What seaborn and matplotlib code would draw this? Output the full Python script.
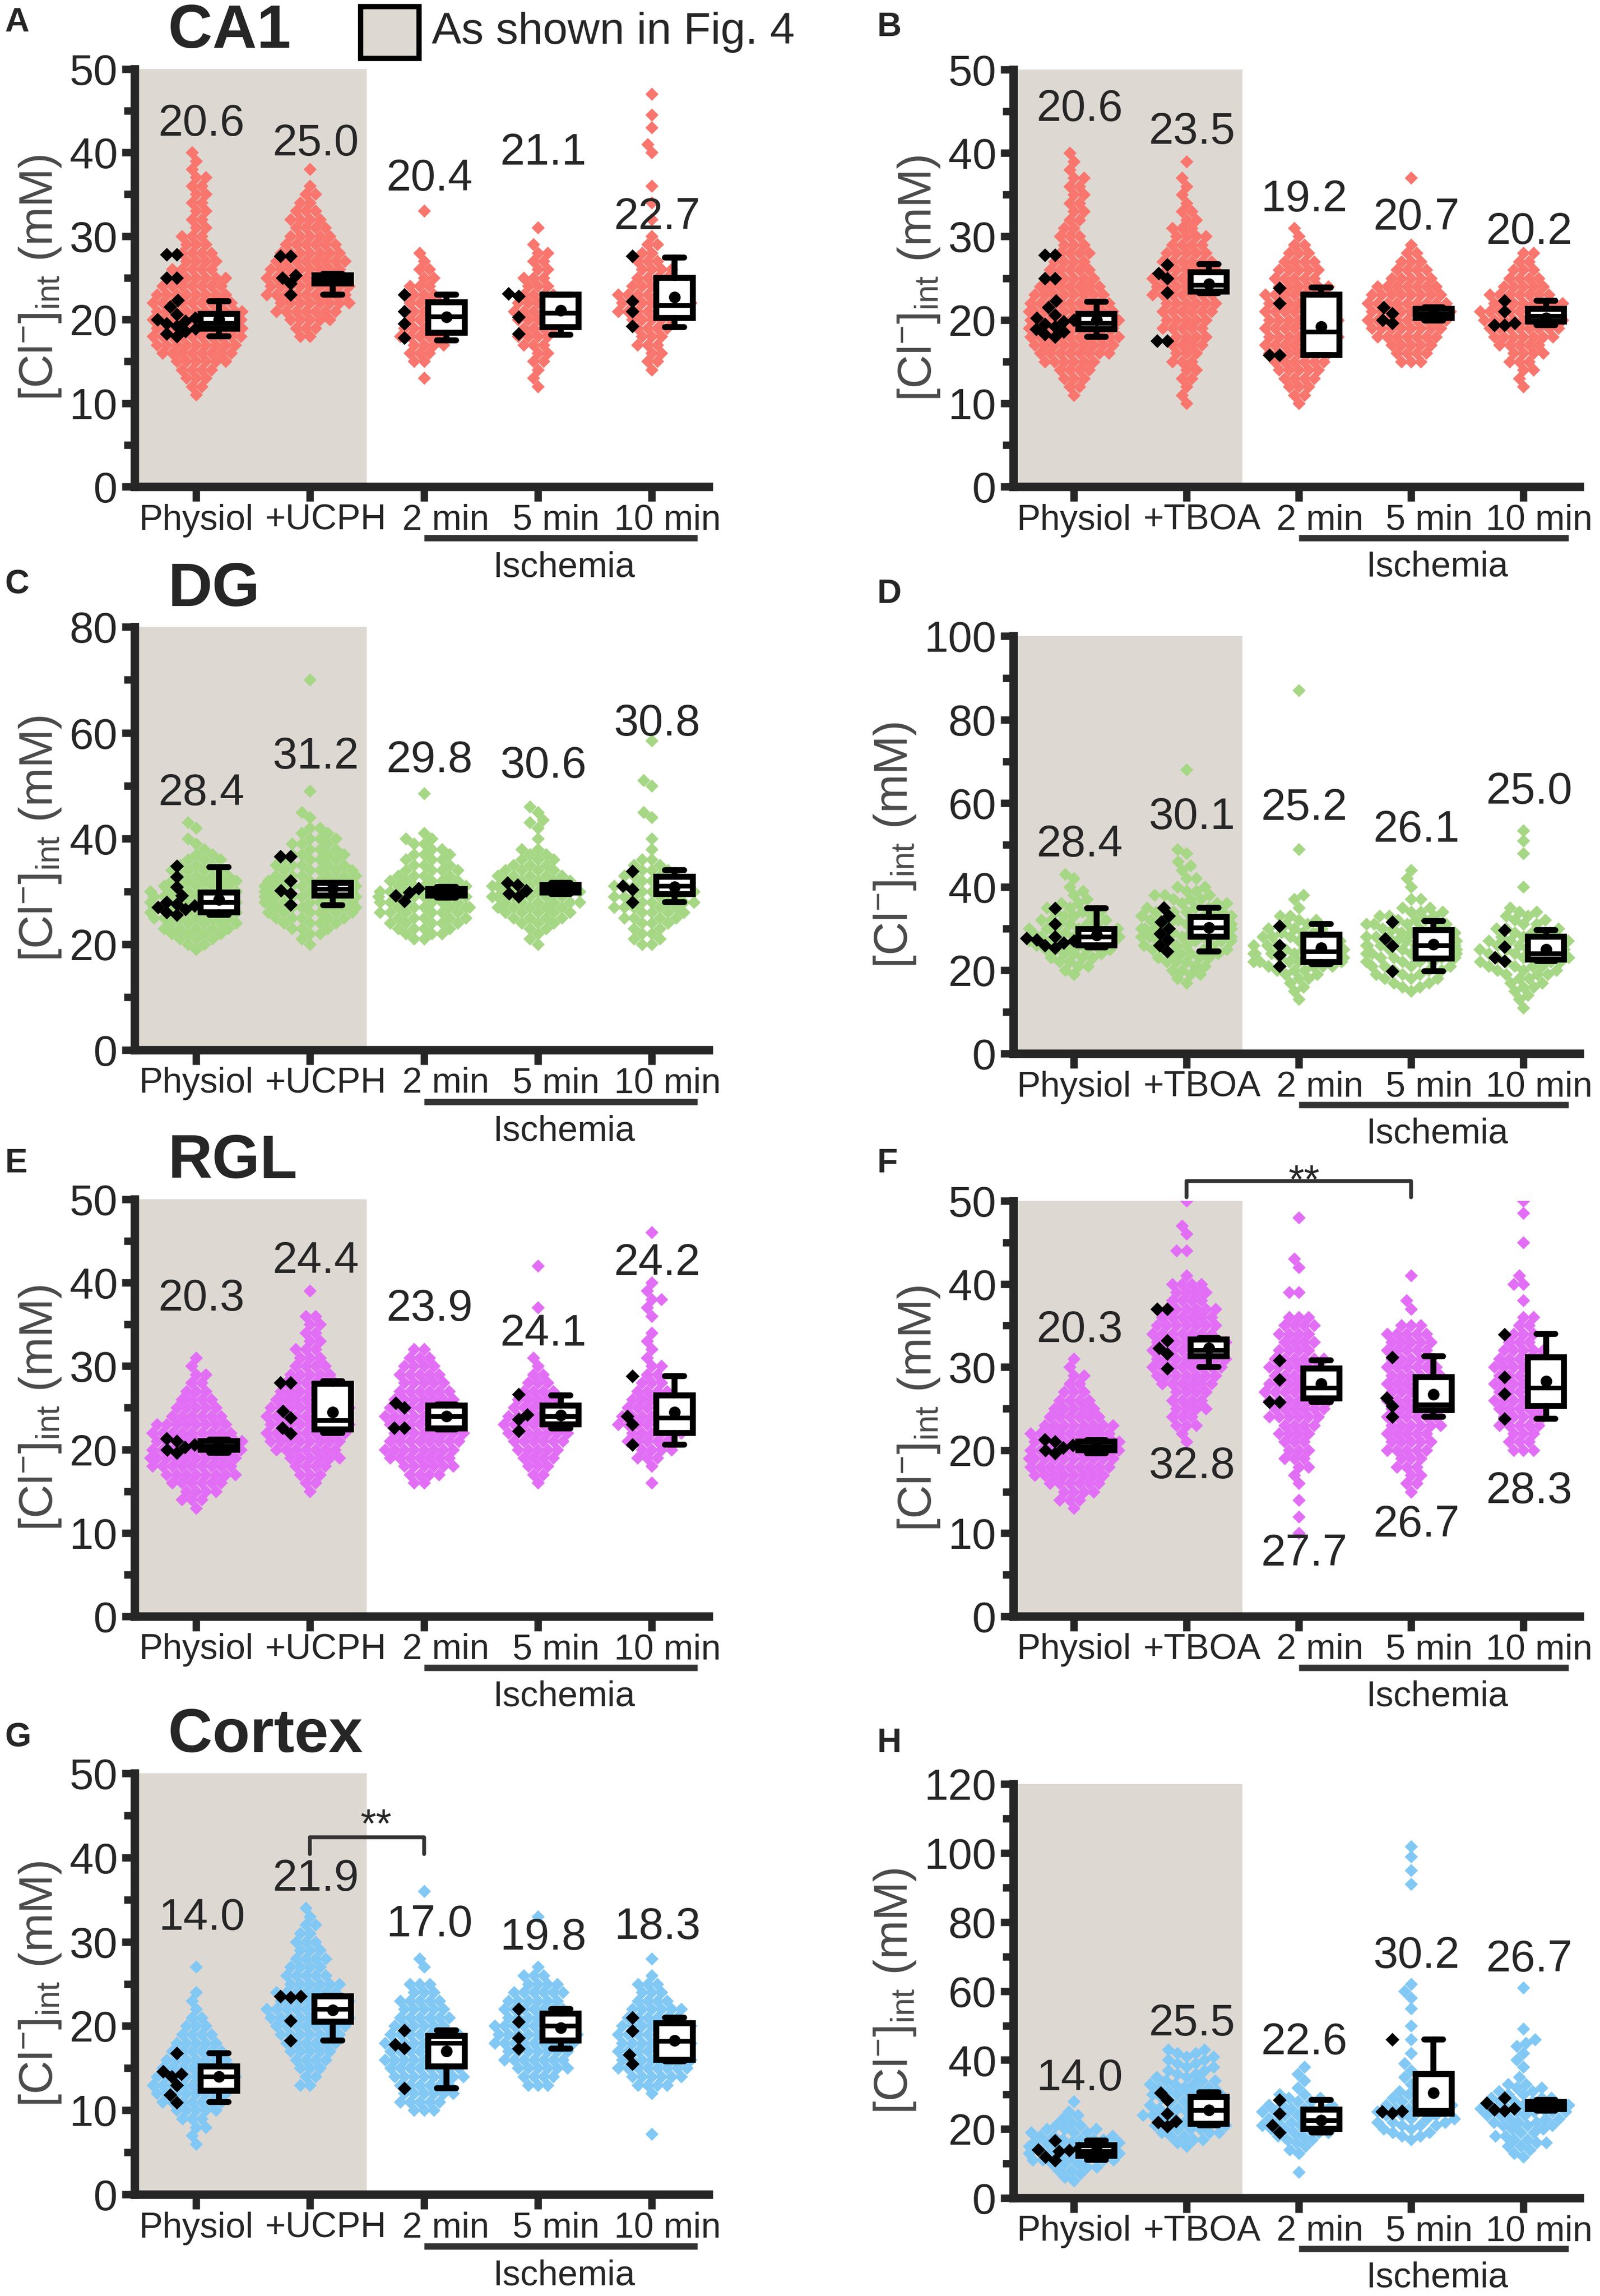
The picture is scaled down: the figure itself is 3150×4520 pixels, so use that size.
import numpy as np
import matplotlib
matplotlib.use("Agg")
import matplotlib.pyplot as plt
from matplotlib.patches import Rectangle
from matplotlib.transforms import ScaledTranslation, blended_transform_factory
import seaborn as sns

# ---- categories ----
names_ucph = ["Physiol", "+UCPH", "2 min", "5 min", "10 min"]
names_tboa = ["Physiol", "+TBOA", "2 min", "5 min", "10 min"]

# cell values are stored as 1 mM histograms read off the swarms:
# first bin value, counts per bin, then isolated points far from the bulk
# box rows: q1, median, q3, whisker low, whisker high, mean

# ---- CA1 physiol (same data in A and B) ----
ca1_phys = (11, [1, 2, 3, 4, 6, 8, 9, 10, 10, 10, 10, 9, 8, 7, 6, 5, 4, 4, 3, 3,
                 2, 2, 2, 2, 2, 2, 2, 1, 1, 1], [])
ca1_phys_slice = [27.8, 27.8, 25.0, 25.0, 22.3, 21.5, 20.6, 20.2, 20.0, 19.8,
                  19.5, 19.2, 18.9, 18.6, 18.3, 18.0]
ca1_phys_box = [18.9, 19.6, 20.7, 18.0, 22.2, 20.0]

# ---- A: CA1 + UCPH ----
a_cells = [
    ca1_phys,
    (18, [2, 3, 5, 7, 8, 9, 9, 9, 8, 8, 7, 6, 5, 4, 4, 3, 2, 2, 1, 0, 1], []),
    (13, [1, 0, 2, 3, 4, 5, 5, 4, 4, 4, 3, 3, 2, 2, 1, 1], [33]),
    (12, [1, 1, 1, 2, 2, 3, 4, 4, 5, 5, 5, 4, 3, 3, 2, 2, 2, 1], [31]),
    (14, [1, 2, 2, 3, 3, 4, 5, 7, 8, 7, 6, 4, 4, 3, 2, 2, 1, 0, 1, 0, 1, 0, 1],
     [40, 41, 43, 44.5, 47]),
]
a_slices = [ca1_phys_slice, [27.6, 27.6, 25.0, 25.3, 24.3, 23.0],
            [23.0, 21.0, 19.5, 17.8], [23.1, 22.8, 20.3, 18.3],
            [27.6, 22.2, 21.0, 19.2]]
a_boxes = [ca1_phys_box, [24.3, 24.8, 25.3, 23.0, 25.5, 24.8],
           [18.4, 20.4, 22.1, 17.5, 23.0, 20.3],
           [19.1, 20.8, 23.0, 18.2, 23.0, 21.1],
           [20.2, 21.7, 25.0, 19.1, 27.4, 22.7]]
a_labels = [20.6, 25.0, 20.4, 21.1, 22.7]
a_label_y = [43.4, 41.0, 36.8, 39.9, 32.2]

# ---- B: CA1 + TBOA ----
b_cells = [
    ca1_phys,
    (10, [1, 1, 1, 2, 2, 3, 3, 4, 4, 5, 5, 6, 6, 7, 7, 7, 6, 6, 5, 4, 4, 3, 2, 2,
          1, 1, 1, 1, 0, 1], []),
    (10, [1, 2, 3, 4, 5, 6, 7, 8, 8, 8, 8, 8, 7, 7, 6, 5, 5, 4, 3, 2, 1, 1], []),
    (15, [3, 4, 5, 7, 8, 9, 9, 9, 8, 7, 5, 4, 3, 2, 1], [37]),
    (12, [1, 1, 2, 3, 4, 5, 7, 8, 9, 9, 8, 7, 5, 4, 3, 2, 2], []),
]
b_slices = [ca1_phys_slice, [26.6, 25.6, 25.0, 23.3, 17.5, 17.5],
            [23.8, 22.0, 15.8, 15.8], [21.5, 20.8, 20.0, 19.6],
            [22.3, 21.0, 19.6, 19.4, 19.4]]
b_boxes = [ca1_phys_box, [23.4, 24.2, 25.7, 23.2, 26.7, 24.3],
           [15.8, 18.6, 23.0, 15.8, 23.9, 19.2],
           [20.2, 20.7, 21.3, 19.9, 21.5, 20.7],
           [19.8, 20.5, 21.3, 19.4, 22.3, 20.2]]
b_labels = [20.6, 23.5, 19.2, 20.7, 20.2]
b_label_y = [45.2, 42.5, 34.4, 32.2, 30.5]

# ---- C: DG + UCPH ----
c_cells = [
    (19, [1, 2, 3, 4, 5, 5, 6, 6, 6, 6, 6, 6, 5, 5, 4, 4, 3, 3, 2, 1, 1, 1], [42, 43]),
    (20, [1, 1, 2, 3, 4, 5, 6, 6, 7, 7, 7, 7, 6, 6, 5, 5, 4, 4, 3, 3, 3, 2, 2],
     [44, 45, 49, 70]),
    (21, [2, 3, 4, 5, 5, 6, 6, 6, 6, 6, 5, 5, 4, 4, 3, 3, 3, 2, 2, 2, 1], [48.5]),
    (20, [1, 1, 1, 2, 3, 4, 5, 5, 6, 6, 6, 6, 5, 5, 4, 3, 3, 2, 2, 0, 1],
     [42, 43, 43.5, 45, 46]),
    (20, [2, 2, 2, 2, 3, 4, 4, 5, 5, 5, 5, 5, 4, 4, 3, 2, 2, 0, 1, 0, 1],
     [44, 45, 50, 51, 58.5]),
]
c_slices = [[34.8, 32.8, 30.8, 29.2, 28.0, 27.6, 27.3, 27.0, 26.6, 26.0, 25.6],
            [36.6, 36.6, 32.0, 30.2, 29.6, 27.5], [30.6, 29.8, 29.2, 28.2],
            [31.6, 31.2, 30.2, 29.6, 29.0], [33.8, 31.0, 30.4, 28.0]]
c_boxes = [[26.0, 28.0, 29.8, 25.6, 34.6, 28.4],
           [29.2, 30.5, 31.6, 27.4, 31.6, 30.6],
           [29.2, 29.8, 30.5, 28.8, 30.8, 29.8],
           [29.8, 30.4, 31.2, 29.5, 31.6, 30.6],
           [29.5, 31.0, 32.8, 28.0, 34.0, 30.8]]
c_labels = [28.4, 31.2, 29.8, 30.6, 30.8]
c_label_y = [48.5, 55.4, 54.7, 53.7, 61.6]

# ---- D: DG + TBOA ----
d_cells = [
    (19, [1, 1, 2, 2, 3, 3, 4, 4, 5, 5, 5, 4, 4, 3, 3, 3, 2, 2, 1, 1, 1, 1], [42, 43]),
    (17, [1, 1, 2, 2, 2, 3, 3, 4, 4, 4, 5, 5, 5, 5, 5, 5, 5, 4, 4, 3, 3, 3, 2, 2,
          0, 2, 0, 1, 1, 1, 0, 1, 1], [68]),
    (13, [1, 0, 1, 1, 1, 2, 2, 3, 4, 5, 5, 5, 5, 4, 4, 4, 3, 3, 2, 2, 2, 0, 1, 0,
          1, 1], [49, 87]),
    (15, [1, 2, 2, 3, 3, 3, 4, 4, 4, 5, 5, 5, 5, 5, 4, 4, 4, 3, 3, 3, 2, 0, 2, 0,
          0, 1, 0, 1, 0, 1], []),
    (11, [1, 0, 1, 1, 1, 2, 2, 2, 3, 3, 4, 4, 4, 4, 4, 4, 4, 3, 3, 3, 2, 2, 2, 2, 1],
     [40, 48, 51, 53.5]),
]
d_slices = [[34.8, 31.0, 28.0, 27.6, 27.3, 27.0, 26.6, 26.0, 25.4],
            [35.0, 33.0, 31.5, 30.0, 28.8, 27.3, 26.0, 24.5],
            [30.6, 26.0, 23.6, 21.0], [31.5, 27.5, 25.8, 19.8],
            [29.6, 25.6, 23.0, 22.2]]
d_boxes = [[26.0, 28.0, 29.8, 25.5, 34.8, 28.4],
           [28.0, 30.2, 32.8, 24.5, 35.0, 30.2],
           [21.9, 24.5, 28.5, 21.5, 31.1, 25.4],
           [22.8, 26.0, 29.6, 19.8, 31.8, 26.2],
           [22.5, 24.0, 28.0, 22.2, 29.6, 25.0]]
d_labels = [28.4, 30.1, 25.2, 26.1, 25.0]
d_label_y = [50.0, 56.6, 58.8, 53.5, 62.7]

# ---- RGL physiol (same data in E and F) ----
rgl_phys = (13, [1, 3, 4, 6, 8, 9, 10, 10, 10, 9, 8, 6, 5, 4, 3, 2, 2, 1, 1], [])
rgl_phys_slice = [21.3, 21.0, 20.6, 20.3, 20.0, 19.6]
rgl_phys_box = [20.0, 20.4, 21.0, 19.6, 21.2, 20.4]

# ---- E: RGL + UCPH ----
e_cells = [
    rgl_phys,
    (15, [1, 2, 3, 4, 6, 7, 8, 9, 9, 9, 9, 8, 7, 6, 5, 4, 3, 3, 2, 2, 2, 2, 0, 0, 1], []),
    (16, [2, 4, 6, 7, 8, 8, 8, 8, 8, 7, 7, 6, 5, 5, 4, 3, 2], []),
    (16, [1, 2, 3, 4, 5, 6, 7, 7, 6, 5, 5, 4, 3, 2, 1, 1], [37, 42]),
    (16, [1, 0, 1, 3, 4, 5, 6, 7, 7, 6, 5, 4, 3, 2, 2, 1, 1, 1, 1, 0, 1, 1, 2, 1, 1],
     [46]),
]
e_slices = [rgl_phys_slice, [28.0, 28.0, 24.6, 23.8, 22.6, 21.9],
            [25.6, 25.0, 22.6, 22.6], [26.6, 24.2, 23.6, 22.2],
            [28.8, 24.0, 23.0, 20.6]]
e_boxes = [rgl_phys_box, [22.4, 23.5, 27.9, 22.0, 28.2, 24.5],
           [22.5, 24.0, 25.3, 22.4, 25.4, 24.0],
           [23.0, 24.0, 25.3, 22.5, 26.5, 24.1],
           [22.0, 23.8, 26.5, 20.6, 28.8, 24.5]]
e_labels = [20.3, 24.4, 23.9, 24.1, 24.2]
e_label_y = [38.0, 42.5, 36.8, 33.8, 42.3]

# ---- F: RGL + TBOA ----
f_cells = [
    rgl_phys,
    (21, [1, 1, 3, 3, 4, 4, 4, 6, 7, 8, 8, 8, 8, 7, 7, 6, 6, 4, 4, 4, 1, 0, 0, 2,
          0, 1, 1, 0, 0, 1], []),
    (10, [1, 0, 1, 0, 1, 0, 1, 1, 2, 3, 3, 3, 4, 4, 6, 6, 7, 7, 7, 6, 6, 6, 4, 4,
          4, 4, 3, 0, 0, 2, 0, 0, 1, 1], [48]),
    (15, [1, 2, 2, 3, 3, 5, 5, 5, 6, 6, 6, 6, 6, 6, 6, 6, 5, 5, 5, 5, 3, 0, 1, 1,
          0, 0, 1], []),
    (20, [3, 3, 3, 5, 5, 5, 6, 6, 6, 6, 6, 5, 5, 3, 3, 2, 2, 0, 1, 0, 2, 1],
     [45, 48.5, 50]),
]
f_slices = [rgl_phys_slice, [37.0, 37.0, 33.2, 32.3, 31.6, 29.8],
            [30.8, 28.5, 25.8, 25.8], [31.2, 26.3, 25.3, 24.0],
            [33.9, 28.8, 26.8, 23.8]]
f_boxes = [rgl_phys_box, [31.3, 32.0, 33.3, 30.0, 33.5, 32.3],
           [26.2, 27.5, 29.8, 25.8, 30.8, 28.0],
           [24.8, 25.5, 28.8, 24.0, 31.3, 26.7],
           [25.3, 27.5, 31.2, 23.8, 34.0, 28.3]]
f_labels = [20.3, 32.8, 27.7, 26.7, 28.3]
f_label_y = [34.4, 18.0, 7.5, 11.0, 15.0]

# ---- G: Cortex + UCPH ----
g_cells = [
    (6, [1, 1, 2, 3, 5, 7, 8, 9, 9, 8, 7, 6, 5, 4, 3, 2, 1, 1, 1, 0, 0, 1], []),
    (13, [2, 2, 3, 4, 5, 6, 7, 8, 9, 9, 8, 7, 6, 5, 4, 4, 3, 3, 2, 2, 1, 1], []),
    (10, [3, 5, 6, 6, 8, 8, 8, 8, 8, 8, 6, 6, 5, 5, 3, 3, 0, 1, 1], [36]),
    (13, [3, 4, 6, 7, 7, 9, 9, 9, 7, 7, 6, 6, 4, 3, 1], [33]),
    (12, [1, 4, 6, 8, 8, 8, 8, 8, 8, 6, 6, 4, 3, 3, 1, 0, 1], [7.2]),
]
g_slices = [[16.8, 14.6, 14.3, 14.0, 13.0, 11.8, 10.9],
            [23.5, 23.5, 23.4, 20.6, 18.3], [19.5, 17.8, 17.4, 12.6],
            [22.0, 20.5, 18.6, 17.3], [21.0, 19.4, 16.6, 15.5]]
g_boxes = [[12.3, 14.0, 15.2, 11.0, 16.8, 14.0],
           [20.5, 22.0, 23.5, 18.3, 23.6, 21.9],
           [15.2, 18.0, 18.8, 12.6, 19.5, 17.0],
           [18.3, 20.0, 21.5, 17.3, 22.0, 19.8],
           [16.0, 18.2, 20.3, 15.8, 21.0, 18.3]]
g_labels = [14.0, 21.9, 17.0, 19.8, 18.3]
g_label_y = [32.8, 37.4, 32.0, 30.4, 31.7]

# ---- H: Cortex + TBOA ----
h_cells = [
    (5, [1, 1, 1, 2, 2, 3, 4, 4, 4, 4, 4, 4, 4, 3, 3, 3, 2, 1, 1, 1, 1, 0, 0, 1], []),
    (15, [1, 1, 2, 2, 3, 3, 3, 3, 3, 3, 3, 3, 3, 3, 3, 3, 3, 3, 3, 3, 2, 2, 2, 2,
          2, 2, 2, 2, 2], []),
    (13, [1, 1, 1, 1, 2, 2, 3, 3, 3, 3, 3, 3, 3, 3, 3, 2, 2, 2, 0, 1, 0, 1, 0, 1,
          0, 1], [7.5]),
    (17, [1, 2, 2, 2, 3, 3, 3, 3, 3, 3, 3, 2, 2, 2, 2, 0, 1],
     [35, 37, 39, 42, 46, 50, 55, 58, 60, 62, 91, 95, 99, 102]),
    (12, [1, 1, 1, 2, 2, 2, 2, 2, 2, 3, 3, 3, 3, 4, 4, 3, 3, 3, 2, 2, 2, 2, 0, 1],
     [38, 40, 42, 44, 45, 46, 49, 61]),
]
h_slices = [[16.6, 14.5, 14.0, 13.8, 13.5, 12.0, 10.9],
            [30.5, 28.4, 24.5, 22.2, 22.0, 20.8], [28.5, 24.5, 21.0, 19.0],
            [46.0, 25.2, 25.0, 24.6], [29.0, 27.5, 26.0, 25.6, 25.4]]
h_boxes = [[12.2, 13.5, 15.3, 11.0, 16.7, 13.8],
           [21.5, 25.5, 29.3, 21.0, 30.6, 25.5],
           [20.0, 22.5, 25.6, 19.0, 28.5, 22.6],
           [24.5, 25.5, 36.0, 24.5, 46.0, 30.5],
           [25.8, 26.5, 27.8, 25.4, 28.5, 26.7]]
h_labels = [14.0, 25.5, 22.6, 30.2, 26.7]
h_label_y = [34.5, 50.4, 45.0, 70.0, 69.0]

# ---- styling ----
RED, GREEN, MAGENTA, BLUE = "#F8766D", "#A6D785", "#E36EF6", "#82C8F5"
SHADE = "#DED8D3"
LABEL_SHIFT = [0.0, 0.14, 0.19, 0.16, 0.14]   # x tick labels sit a bit right

sns.set_style("ticks")
plt.rcParams["font.family"] = ["Liberation Sans", "DejaVu Sans"]
plt.rcParams["mathtext.fontset"] = "custom"
plt.rcParams["mathtext.rm"] = "Liberation Sans"
plt.rcParams["mathtext.it"] = "Liberation Sans:italic"
plt.rcParams["mathtext.bf"] = "Liberation Sans:bold"


def expand(cell):
    lo, counts, far = cell
    vals = np.repeat(lo + np.arange(len(counts)), counts).astype(float)
    return np.concatenate([vals, np.asarray(far, dtype=float)])


def draw_panel(ax, cells, slices, boxes, labels, label_y, names, color, ymax, ystep):
    ax.axvspan(-0.54, 1.5, color=SHADE, lw=0, zorder=0)

    xs, ys = [], []
    for i, cell in enumerate(cells):
        v = expand(cell)
        xs += [float(i)] * len(v)
        ys += list(v)
    sns.swarmplot(x=xs, y=ys, native_scale=True, orient="x", color=color,
                  marker="D", size=4.4, linewidth=0, ax=ax, zorder=2,
                  warn_thresh=1, legend=False)

    sx, sy = [], []
    for i, s in enumerate(slices):
        sx += [i - 0.17] * len(s)
        sy += list(s)
    sns.swarmplot(x=sx, y=sy, native_scale=True, orient="x", color="black",
                  marker="D", size=4.6, linewidth=0, ax=ax, zorder=3,
                  warn_thresh=1, legend=False)

    stats = [dict(q1=b[0], med=b[1], q3=b[2], whislo=b[3], whishi=b[4],
                  mean=b[5], fliers=[]) for b in boxes]
    ax.bxp(stats, positions=np.arange(5) + 0.2, widths=0.32, capwidths=0.17,
           showmeans=True, showfliers=False, patch_artist=True, manage_ticks=False,
           boxprops=dict(facecolor="white", edgecolor="black", lw=2.8, zorder=4),
           whiskerprops=dict(color="black", lw=2.8, zorder=4),
           capprops=dict(color="black", lw=2.8, zorder=4),
           medianprops=dict(color="black", lw=2.2, zorder=4),
           meanprops=dict(marker="o", markerfacecolor="black",
                          markeredgecolor="black", markersize=4.5, zorder=5))

    for i, (v, yy) in enumerate(zip(labels, label_y)):
        ax.text(i + 0.05, yy, f"{v:.1f}", ha="center", va="center",
                fontsize=21, zorder=6)

    ax.set_xlim(-0.54, 4.5)
    ax.set_ylim(0, ymax)
    ax.set_yticks(np.arange(0, ymax + 1, ystep))
    ax.set_yticks(np.arange(ystep / 2, ymax, ystep), minor=True)
    ax.set_xticks(range(5))
    ax.set_xticklabels([])

    # category names drawn as text so they can sit slightly right of the ticks
    xt = ax.get_xaxis_transform()
    below = xt + ScaledTranslation(0, -8 / 72, ax.figure.dpi_scale_trans)
    for i, (name, dx) in enumerate(zip(names, LABEL_SHIFT)):
        ax.text(i + dx, 0, name, transform=below, ha="center", va="top",
                fontsize=16.8)

    sns.despine(ax=ax)
    for side in ["left", "bottom"]:
        ax.spines[side].set_linewidth(4)
    ax.tick_params(axis="y", which="major", length=6, width=3.5, labelsize=20.5, pad=2)
    ax.tick_params(axis="y", which="minor", length=5, width=3.5)
    ax.tick_params(axis="x", length=7, width=3.5)
    ax.set_ylabel(r"[Cl$^{-}$]$_{\mathrm{int}}$ (mM)", fontsize=22,
                  color="#4a4a4a", labelpad=3)
    ax.set_xlabel("")

    ax.plot([2.0, 4.4], [-0.123, -0.123], transform=xt, clip_on=False,
            color="#333333", lw=3, solid_capstyle="butt")
    ax.text(3.23, -0.153, "Ischemia", transform=xt, ha="center", va="top",
            fontsize=16.8)


fig = plt.figure(figsize=(10.5, 15.0667), dpi=300)

panels = [
    ("A", [0.0841, 0.788, 0.3588, 0.182], a_cells, a_slices, a_boxes, a_labels,
     a_label_y, names_ucph, RED, 50, 10, "CA1"),
    ("B", [0.6333, 0.788, 0.354, 0.1817], b_cells, b_slices, b_boxes, b_labels,
     b_label_y, names_tboa, RED, 50, 10, None),
    ("C", [0.0841, 0.5427, 0.3588, 0.1842], c_cells, c_slices, c_boxes, c_labels,
     c_label_y, names_ucph, GREEN, 80, 20, "DG"),
    ("D", [0.6333, 0.5411, 0.354, 0.1818], d_cells, d_slices, d_boxes, d_labels,
     d_label_y, names_tboa, GREEN, 100, 20, None),
    ("E", [0.0841, 0.296, 0.3588, 0.1817], e_cells, e_slices, e_boxes, e_labels,
     e_label_y, names_ucph, MAGENTA, 50, 10, "RGL"),
    ("F", [0.6333, 0.296, 0.354, 0.181], f_cells, f_slices, f_boxes, f_labels,
     f_label_y, names_tboa, MAGENTA, 50, 10, None),
    ("G", [0.0841, 0.0442, 0.3588, 0.1835], g_cells, g_slices, g_boxes, g_labels,
     g_label_y, names_ucph, BLUE, 50, 10, "Cortex"),
    ("H", [0.6333, 0.0427, 0.354, 0.1802], h_cells, h_slices, h_boxes, h_labels,
     h_label_y, names_tboa, BLUE, 120, 20, None),
]

axes = {}
for letter, rect, cells, slices, boxes, labels, ly, names, col, ymax, ystep, title in panels:
    ax = fig.add_axes(rect)
    draw_panel(ax, cells, slices, boxes, labels, ly, names, col, ymax, ystep)
    if title:
        tr = blended_transform_factory(ax.transData, ax.transAxes)
        ax.text(-0.245, 1.02, title, transform=tr, ha="left", va="bottom",
                fontsize=29, fontweight="bold")
    axes[letter] = ax

# panel letters
letter_pos = {"A": (0.003, 0.997), "B": (0.548, 0.995), "C": (0.003, 0.752),
              "D": (0.548, 0.748), "E": (0.003, 0.5), "F": (0.548, 0.5),
              "G": (0.003, 0.25), "H": (0.548, 0.2475)}
for k, (x, y) in letter_pos.items():
    fig.text(x, y, k, fontsize=16, fontweight="bold", ha="left", va="top")

# legend for the shaded area
fig.add_artist(Rectangle((0.2254, 0.9746), 0.0365, 0.0225, transform=fig.transFigure,
                         facecolor=SHADE, edgecolor="black", lw=2.5))
fig.text(0.27, 0.986, "As shown in Fig. 4", fontsize=21, va="center", ha="left")

# significance brackets
ax = axes["F"]
ax.plot([1, 1, 3, 3], [50.4, 52.4, 52.4, 50.4], color="#333333", lw=1.8,
        clip_on=False)
ax.text(2.05, 50.9, "**", ha="center", va="baseline", fontsize=19, clip_on=False)
ax = axes["G"]
ax.plot([1, 1, 2, 2], [40.4, 42.4, 42.4, 40.4], color="#333333", lw=1.8)
ax.text(1.58, 42.4, "**", ha="center", va="baseline", fontsize=19)

fig.savefig("out.png", dpi=300, facecolor="white")
